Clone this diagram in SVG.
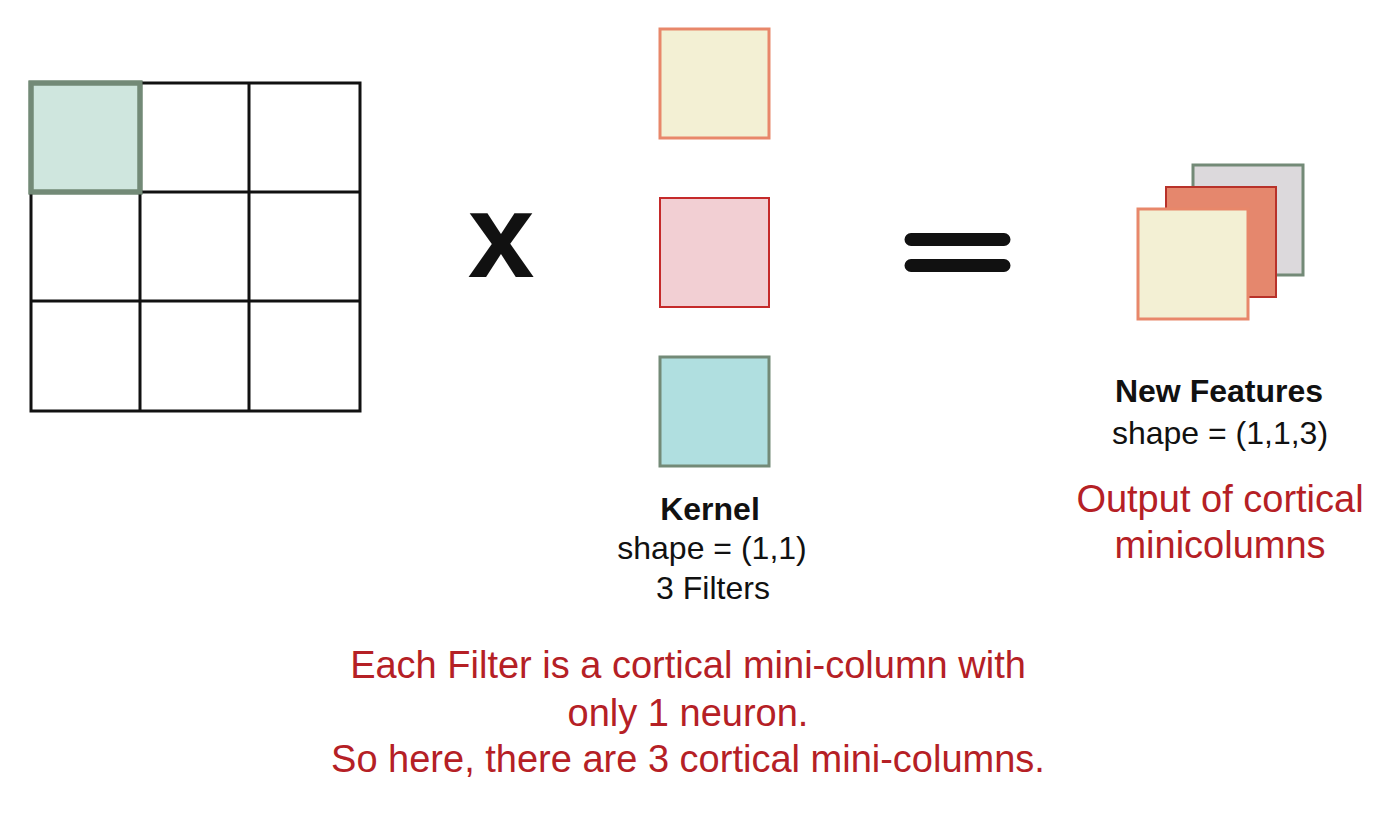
<svg xmlns="http://www.w3.org/2000/svg" width="1400" height="826" viewBox="0 0 1400 826">
<style>
.t{font-family:"Liberation Sans",Arial,sans-serif;text-anchor:middle;fill:#111}
.b{font-weight:bold}
.r{fill:#b52025;font-size:38px}
.k{font-size:32px}
.grid{stroke:#111;stroke-width:3;fill:none}
</style>
<rect width="1400" height="826" fill="#fff"/>
<g id="input-grid">
<rect x="31" y="83" width="109" height="109" fill="#cfe6de" stroke="#738a77" stroke-width="5"/>
<path class="grid" d="M140 83H360V411H31V192M140 83V411M249 83V411M140 192H360M31 301H360"/>
<path d="M31 192V83H140V192Z" fill="none" stroke="#738a77" stroke-width="5"/>
</g>
<g id="times"><text class="t b" x="501" y="277" font-size="120">x</text></g>
<g id="kernel">
<rect x="660" y="29" width="109" height="109" fill="#f3f0d4" stroke="#e8876a" stroke-width="3"/>
<rect x="660" y="198" width="109" height="109" fill="#f2cfd3" stroke="#c52a2a" stroke-width="2"/>
<rect x="660" y="357" width="109" height="109" fill="#b0dfe0" stroke="#738a77" stroke-width="3"/>
<text class="t b k" x="710" y="520">Kernel</text>
<text class="t k" x="712" y="559">shape = (1,1)</text>
<text class="t k" x="713" y="599">3 Filters</text>
</g>
<g id="equals">
<path d="M911 239.5H1004M911 265.5H1004" stroke="#111" stroke-width="13" stroke-linecap="round"/>
</g>
<g id="new-features">
<rect x="1193" y="165" width="110" height="110" fill="#dcd9dc" stroke="#738a77" stroke-width="3"/>
<rect x="1166" y="187" width="110" height="110" fill="#e5876d" stroke="#b8322a" stroke-width="2"/>
<rect x="1138" y="209" width="110" height="110" fill="#f3f0d4" stroke="#e8876a" stroke-width="3"/>
<text class="t b k" x="1219" y="402">New Features</text>
<text class="t k" x="1220" y="444">shape = (1,1,3)</text>
<text class="t r" x="1220" y="512">Output of cortical</text>
<text class="t r" x="1220" y="558">minicolumns</text>
</g>
<g id="note">
<text class="t r" x="688" y="678">Each Filter is a cortical mini-column with</text>
<text class="t r" x="688" y="726">only 1 neuron.</text>
<text class="t r" x="688" y="772">So here, there are 3 cortical mini-columns.</text>
</g>
<g id="connectors"></g>
</svg>
